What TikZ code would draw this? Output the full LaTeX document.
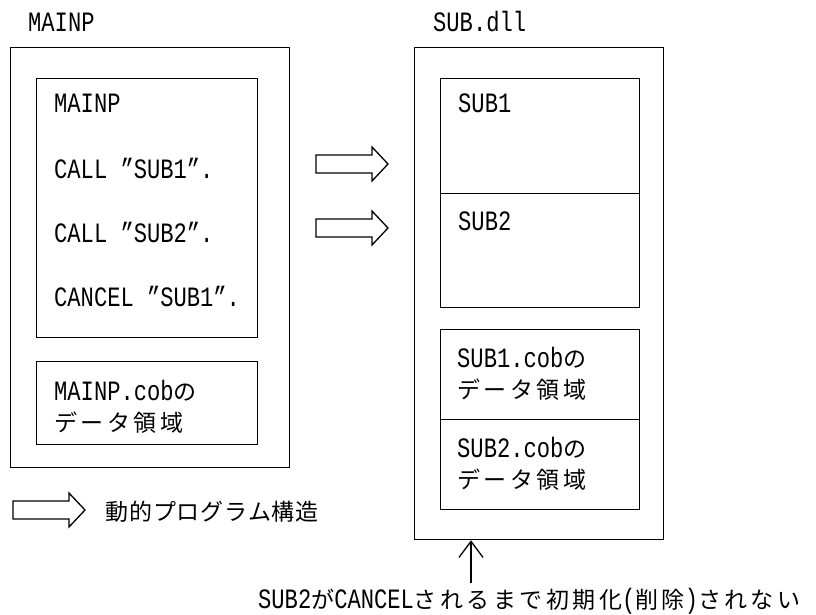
\documentclass[tikz,border=0pt]{standalone}
\usepackage{fontspec}
\usepackage{tikz}
\usetikzlibrary{arrows.meta}
\setmainfont{Liberation Mono}[FakeStretch=0.79]
\newfontfamily\jp{Noto Sans CJK JP}[LetterSpace=15]
\newfontfamily\jplegend{Noto Sans CJK JP}[LetterSpace=4]
\newcommand{\ja}[1]{{\fontsize{23}{28}\jp #1}}

\begin{document}
\begin{tikzpicture}[x=1pt,y=-1pt,
  box/.style={draw, line width=1.3pt, inner sep=0pt, anchor=north west},
  txt/.style={anchor=base west, inner sep=0pt, font=\fontsize{28}{30}\selectfont}]
  \useasboundingbox (0,0) rectangle (816,615);
  % main program and its areas
  \node[txt] (mainlabel) at (28,32) {MAINP};
  \node[box, minimum width=279pt, minimum height=420pt] (mainp) at (10,47) {};
  \node[box, minimum width=221pt, minimum height=259pt] (mainproc) at (36,78) {};
  \node[box, minimum width=221pt, minimum height=83pt] (maindata) at (36,361) {};
  \node[txt] (l1) at (54,113) {MAINP};
  \node[txt] (l2) at (54,178) {CALL ”SUB1”.};
  \node[txt] (l3) at (54,242) {CALL ”SUB2”.};
  \node[txt] (l4) at (54,306) {CANCEL ”SUB1”.};
  \node[txt] (md1) at (54,400) {MAINP.cob\ja{の}};
  \node[txt] (md2) at (54,431) {\ja{データ領域}};
  % dll with the two subprograms
  \node[txt] (dlllabel) at (433,32) {SUB.dll};
  \node[box, minimum width=249pt, minimum height=492pt] (dll) at (414,47) {};
  \node[box, minimum width=199pt, minimum height=115pt] (sub1) at (440,78) {};
  \node[box, minimum width=199pt, minimum height=114pt] (sub2) at (440,193) {};
  \node[box, minimum width=199pt, minimum height=90pt] (data1) at (440,329) {};
  \node[box, minimum width=199pt, minimum height=90pt] (data2) at (440,419) {};
  \node[txt] (s1) at (458,113) {SUB1};
  \node[txt] (s2) at (458,230) {SUB2};
  \node[txt] (d1a) at (457,367) {SUB1.cob\ja{の}};
  \node[txt] (d1b) at (457,398) {\ja{データ領域}};
  \node[txt] (d2a) at (457,457) {SUB2.cob\ja{の}};
  \node[txt] (d2b) at (457,488) {\ja{データ領域}};
  % hollow arrows
  \foreach \x/\y in {316/164, 316/228, 13/510}
    \draw[line width=1.3pt, line join=miter] (\x,\y) ++(0,-9) -- ++(56,0) -- ++(0,-8)
      -- ++(16,17) -- ++(-16,17) -- ++(0,-8) -- ++(-56,0) -- cycle;
  \node[txt] (legend) at (105,520) {\fontsize{23}{28}\jplegend 動的プログラム構造};
  % note below the dll
  \node[txt] (note) at (258,608) {SUB2\ja{が}CANCEL\ja{されるまで初期化}(\ja{削除})\ja{されない}};
  \coordinate (tail) at (471,583);
  \draw[line width=1.3pt, -{Straight Barb[length=16pt,width=24pt]}] (tail) -- (tail |- dll.south);
\end{tikzpicture}
\end{document}
